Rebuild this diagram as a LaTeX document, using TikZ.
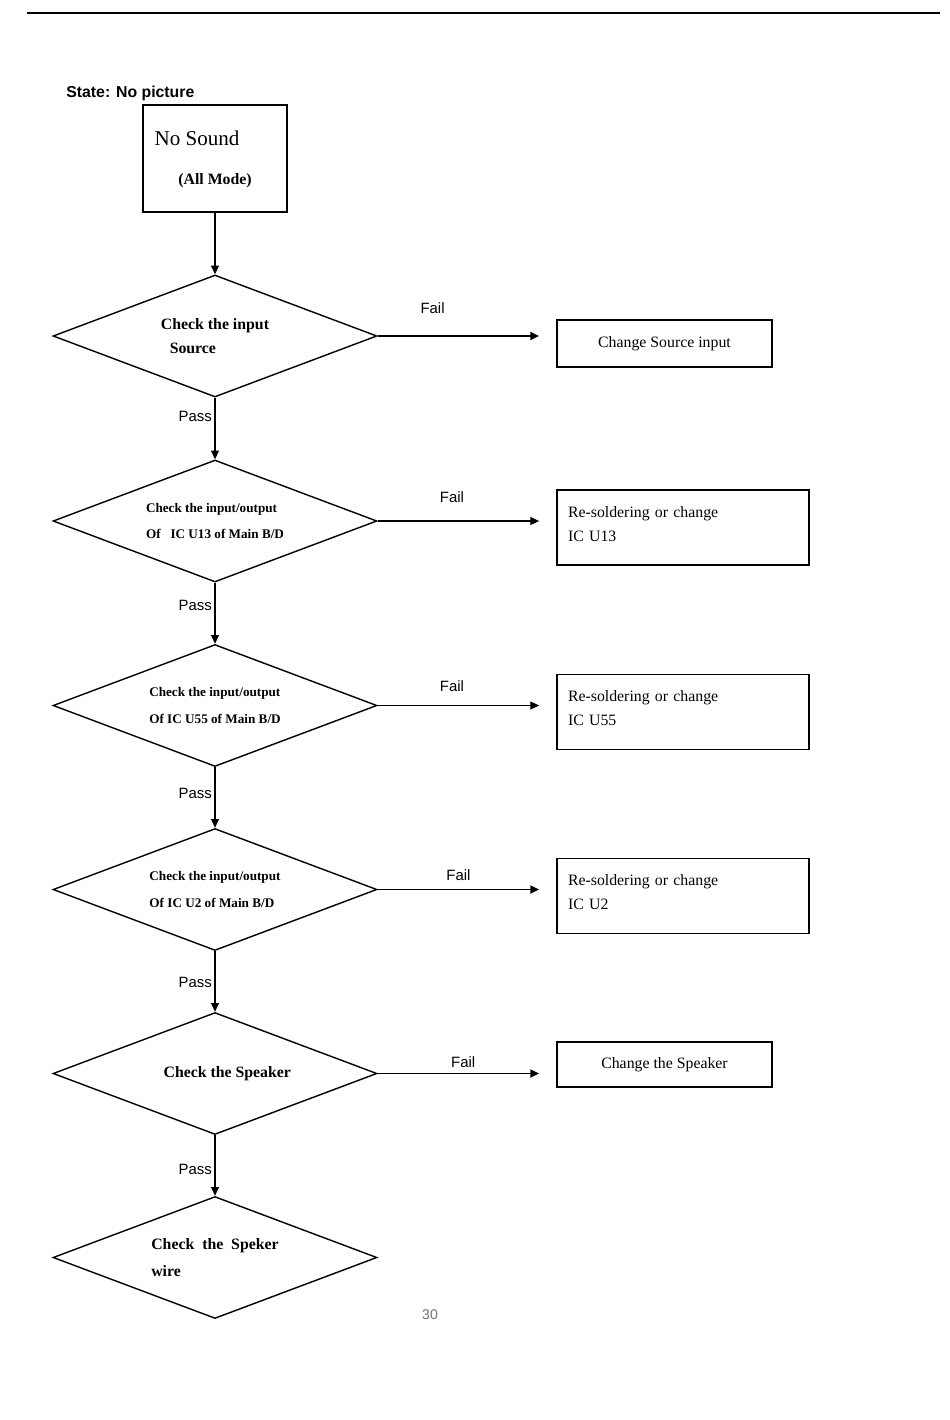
\documentclass[tikz,border=0pt]{standalone}
\usepackage{fontspec}
\setmainfont{Liberation Serif}
\setsansfont{Liberation Sans}
\usetikzlibrary{shapes.geometric,arrows.meta}

\begin{document}
\begin{tikzpicture}[x=0.02cm,y=-0.02cm,
  check/.style ={draw, diamond, line width=0.8pt, aspect=2.66, minimum width=6.48cm,
                 minimum height=2.44cm, inner sep=0pt, align=left,
                 font=\fontsize{7.5}{15}\selectfont\bfseries},
  fixbox/.style={draw, line width=1pt, minimum height=1.5cm, text width=4.6cm,
                 inner xsep=0.22cm, align=left, font=\fontsize{9}{13.6}\selectfont},
  actbox/.style={draw, line width=1pt, minimum width=4.3cm, minimum height=0.94cm,
                 font=\fontsize{9}{11}\selectfont},
  flow/.style  ={-{Triangle[length=5pt,width=4.5pt]}, line width=0.6pt},
  thk/.style   ={line width=1.1pt},
  lbl/.style   ={font=\sffamily\fontsize{8.5}{10}\selectfont, inner sep=1.5pt}]

  \useasboundingbox (0,0) rectangle (950,1420);

  % ---------------- page rule & title ----------------
  \draw[line width=1.3pt] (27,13) -- (940,13);
  \node[anchor=west, inner sep=0pt, font=\sffamily\bfseries\fontsize{9}{11}\selectfont] (state) at (66,93) {State: No picture};

  % ---------------- start box ----------------
  \node[draw, line width=1pt, minimum width=2.88cm, minimum height=2.14cm] (start) at (215,158.5) {};
  \node[font=\fontsize{12}{14}\selectfont] (nosnd) at (197,138) {No Sound};
  \node[font=\fontsize{9}{11}\selectfont\bfseries] (allmd) at (215,181) {(All Mode)};

  % ---------------- checks (left column) ----------------
  \node[check, font=\fontsize{9}{14}\selectfont\bfseries] (srcchk) at (215,336) {Check the input\\\hspace*{5pt}Source};
  \node[check] (u13chk) at (215,521)    {Check the input/output\\Of~~~IC U13 of Main B/D};
  \node[check] (u55chk) at (215,705.5)  {Check the input/output\\Of IC U55 of Main B/D};
  \node[check] (u2chk)  at (215,889.5)  {Check the input/output\\Of IC U2 of Main B/D};
  \node[check, font=\fontsize{9}{14}\selectfont\bfseries] (spkchk) at (215,1073.5) {\hspace*{14pt}Check the Speaker};
  \node[check, font=\fontsize{9}{15}\selectfont\bfseries] (wirechk) at (215,1257.5) {Check~ the~ Speker\\wire};

  % ---------------- repairs (right column) ----------------
  \node[actbox] (srcfix) at (664.5,343.5)  {Change Source input};
  \node[fixbox] (u13fix) at (683,527.5)    {Re-soldering or change\\IC U13\vspace*{4pt}};
  \node[fixbox] (u55fix) at (683,712)      {Re-soldering or change\\IC U55\vspace*{4pt}};
  \node[fixbox] (u2fix)  at (683,896)      {Re-soldering or change\\IC U2\vspace*{4pt}};
  \node[actbox, minimum height=0.9cm] (spkfix) at (664.5,1064.5) {Change the Speaker};

  % ---------------- pass path ----------------
  \draw[flow] (start.south)  -- (srcchk.north);
  \draw[flow] (srcchk.south) -- node[lbl,pos=0.30,left]{Pass} (u13chk.north);
  \draw[flow] (u13chk.south) -- node[lbl,pos=0.37,left]{Pass} (u55chk.north);
  \draw[flow] (u55chk.south) -- node[lbl,pos=0.44,left]{Pass} (u2chk.north);
  \draw[flow] (u2chk.south)  -- node[lbl,pos=0.51,left]{Pass} (spkchk.north);
  \draw[flow] (spkchk.south) -- node[lbl,pos=0.57,left]{Pass} (wirechk.north);

  % ---------------- fail path ----------------
  \draw[flow,thk] (srcchk.east) -- node[lbl,pos=0.34,yshift=0.56cm]{Fail} ([xshift=-0.34cm]srcfix.west |- srcchk.east);
  \draw[flow]     (u13chk.east) -- node[lbl,pos=0.46,yshift=0.48cm]{Fail} ([xshift=-0.34cm]u13fix.west |- u13chk.east);
  \draw[flow]     (u55chk.east) -- node[lbl,pos=0.46,yshift=0.38cm]{Fail} ([xshift=-0.34cm]u55fix.west |- u55chk.east);
  \draw[flow,thk] (u2chk.east)  -- node[lbl,pos=0.50,yshift=0.28cm]{Fail} ([xshift=-0.34cm]u2fix.west |- u2chk.east);
  \draw[flow,thk] (spkchk.east) -- node[lbl,pos=0.53,yshift=0.22cm]{Fail} ([xshift=-0.34cm]spkfix.west |- spkchk.east);

  % page number
  \node[font=\sffamily\fontsize{8}{10}\selectfont, text=black!55] (pgno) at (430,1315) {30};
\end{tikzpicture}
\end{document}
